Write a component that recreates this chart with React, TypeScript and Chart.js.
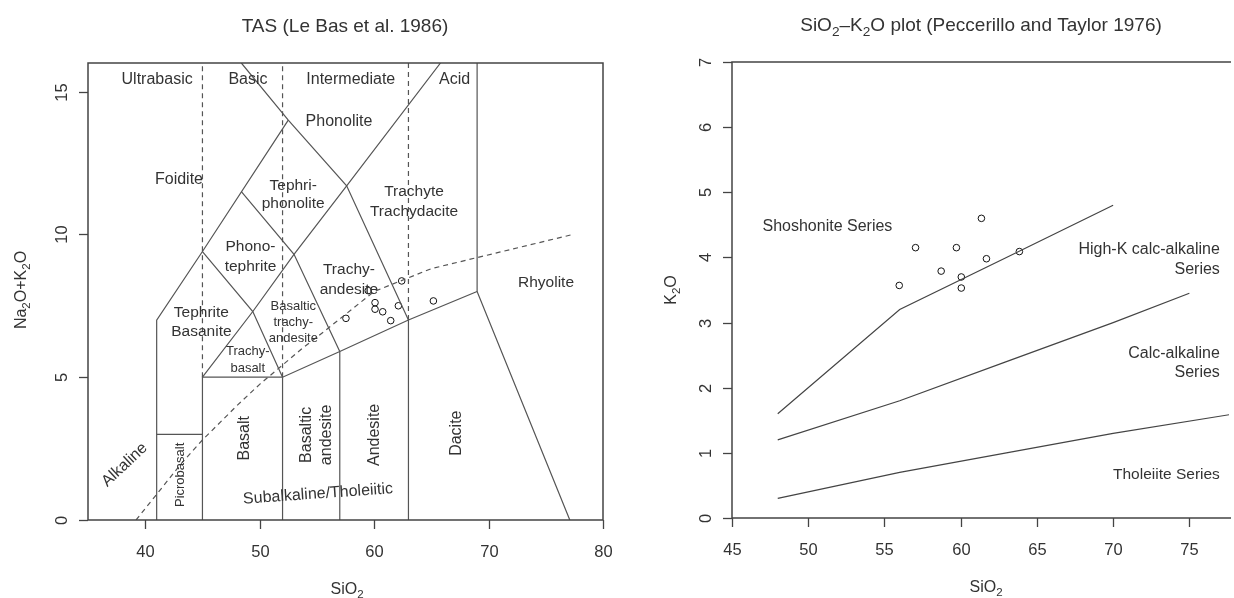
import React, { useEffect, useRef } from 'react';
import { Chart, registerables } from 'chart.js';
Chart.register(...registerables);

// ---------- TAS (Le Bas et al. 1986) ----------
const TAS_SIO2 = [57.54, 59.49, 60.08, 60.08, 60.75, 61.45, 62.12, 62.41, 65.18];
const TAS_ALK = [7.06, 8.03, 7.61, 7.38, 7.29, 6.98, 7.5, 8.37, 7.67];
const TAS_X_TICKS = [40, 50, 60, 70, 80];
const TAS_Y_TICKS = [0, 5, 10, 15];

// field boundaries (SiO2, Na2O+K2O)
const TAS_SOLID: number[][][] = [
  [[41, 0], [41, 7], [45, 9.4], [52.5, 14]],
  [[48.4, 16], [52.5, 14], [57.6, 11.7], [63, 7]],
  [[45, 0], [45, 5], [52, 5], [57, 5.9], [63, 7], [69, 8], [77.1, 0]],
  [[41, 3], [45, 3]],
  [[52, 0], [52, 5]],
  [[57, 0], [57, 5.9]],
  [[63, 0], [63, 7]],
  [[69, 8], [69, 16]],
  [[45, 5], [49.4, 7.3], [53, 9.3], [57.6, 11.7], [65.8, 16]],
  [[45, 9.4], [49.4, 7.3], [52, 5]],
  [[48.4, 11.5], [53, 9.3], [57, 5.9]],
];
const TAS_DASHED: number[][][] = [
  [[45, 5], [45, 16]],
  [[52, 5], [52, 16]],
  [[63, 7], [63, 16]],
];
const ALK_CURVE_X = [39.2, 40, 43.2, 45, 48, 50, 53.7, 55, 60, 65, 77.4];
const ALK_CURVE_Y = [0, 0.4, 2, 2.8, 4, 4.75, 6, 6.4, 8, 8.8, 10];

const TAS_LABELS = [
  { t: 'Ultrabasic', x: 41.04, y: 15.41, s: 16 },
  { t: 'Basic', x: 48.98, y: 15.41, s: 16 },
  { t: 'Intermediate', x: 57.96, y: 15.43, s: 16 },
  { t: 'Acid', x: 67.03, y: 15.43, s: 16 },
  { t: 'Foidite', x: 42.95, y: 11.93, s: 16 },
  { t: 'Phonolite', x: 56.93, y: 13.95, s: 16 },
  { t: 'Tephri-\nphonolite', x: 52.93, y: 11.39, s: 15.5, lh: 18 },
  { t: 'Phono-\ntephrite', x: 49.2, y: 9.22, s: 15.5, lh: 20 },
  { t: 'Trachyte\nTrachydacite', x: 63.49, y: 11.15, s: 15.5, lh: 20 },
  { t: 'Trachy-\nandesite', x: 57.8, y: 8.4, s: 15.5, lh: 20 },
  { t: 'Rhyolite', x: 75.02, y: 8.32, s: 15.5 },
  { t: 'Tephrite\nBasanite', x: 44.91, y: 6.94, s: 15.5, lh: 19 },
  { t: 'Basaltic\ntrachy-\nandesite', x: 52.94, y: 6.93, s: 13, lh: 16 },
  { t: 'Trachy-\nbasalt', x: 48.96, y: 5.6, s: 13, lh: 16.5 },
  { t: 'Alkaline', x: 38.2, y: 1.93, s: 16, r: -43 },
  { t: 'Picrobasalt', x: 43.07, y: 1.58, s: 13, r: -90 },
  { t: 'Basalt', x: 48.7, y: 2.86, s: 16, r: -90 },
  { t: 'Basaltic\nandesite', x: 54.97, y: 2.98, s: 16, r: -90, lh: 20 },
  { t: 'Andesite', x: 60.08, y: 2.98, s: 16, r: -90 },
  { t: 'Dacite', x: 67.23, y: 3.04, s: 16, r: -90 },
  { t: 'Subalkaline/Tholeiitic', x: 55.1, y: 0.91, s: 16, r: -4 },
];

// ---------- SiO2-K2O (Peccerillo and Taylor 1976) ----------
const PT_SIO2 = [55.97, 57.04, 58.72, 59.72, 60.04, 60.04, 61.36, 61.69, 63.85];
const PT_K2O = [3.57, 4.15, 3.79, 4.15, 3.7, 3.53, 4.6, 3.98, 4.09];
const PT_X_TICKS = [45, 50, 55, 60, 65, 70, 75];
const PT_Y_TICKS = [0, 1, 2, 3, 4, 5, 6, 7];
const THOL_X = [48, 56, 63, 70, 78];
const THOL_Y = [0.3, 0.7, 1.0, 1.3, 1.6];
const CALC_X = [48, 56, 63, 70, 75];
const CALC_Y = [1.2, 1.8, 2.4, 3.0, 3.45];
const HIGHK_X = [48, 56, 63, 70];
const HIGHK_Y = [1.6, 3.2, 4.0, 4.8];

const PT_LABELS = [
  { t: 'Shoshonite Series', x: 47.0, y: 4.47, s: 16, a: 'left' },
  { t: 'High-K calc-alkaline\nSeries', x: 77.0, y: 3.97, s: 16, a: 'right', lh: 19.5 },
  { t: 'Calc-alkaline\nSeries', x: 77.0, y: 2.38, s: 16, a: 'right', lh: 19 },
  { t: 'Tholeiite Series', x: 77.0, y: 0.67, s: 15.5, a: 'right' },
];

const FONT = '"Liberation Sans", Arial, Helvetica, sans-serif';
const TEXT = '#333';

function segs(line: string) {
  const out: { t: string; sub: boolean }[] = [];
  for (let i = 0; i < line.length; i++) {
    if (line[i] === '_' && i + 1 < line.length) {
      out.push({ t: line[i + 1], sub: true });
      i++;
    } else {
      const last = out[out.length - 1];
      if (last && !last.sub) last.t += line[i];
      else out.push({ t: line[i], sub: false });
    }
  }
  return out;
}

function drawRich(ctx: CanvasRenderingContext2D, text: string, x: number, y: number, size: number,
  rot = 0, align = 'center', lh = size * 1.2) {
  const lines = text.split('\n');
  ctx.save();
  ctx.translate(x, y);
  if (rot) ctx.rotate((rot * Math.PI) / 180);
  ctx.fillStyle = TEXT;
  ctx.textBaseline = 'middle';
  ctx.textAlign = 'left';
  lines.forEach((line, i) => {
    const ss = segs(line).map((s) => {
      ctx.font = `${s.sub ? size * 0.72 : size}px ${FONT}`;
      return { ...s, w: ctx.measureText(s.t).width };
    });
    const w = ss.reduce((a, s) => a + s.w, 0);
    let cx = align === 'left' ? 0 : align === 'right' ? -w : -w / 2;
    const cy = (i - (lines.length - 1) / 2) * lh;
    ss.forEach((s) => {
      ctx.font = `${s.sub ? size * 0.72 : size}px ${FONT}`;
      ctx.fillText(s.t, cx, cy + (s.sub ? size * 0.32 : 0));
      cx += s.w;
    });
  });
  ctx.restore();
}

type PanelCfg = {
  xTicks: number[]; yTicks: number[]; title: string; titlePos: number[];
  xTitle: string; xTitlePos: number[]; yTitle: string; yTitlePos: number[];
  labels: any[]; rightBorder: boolean;
};

function panelPlugin(cfg: PanelCfg) {
  return {
    id: 'panelDecor',
    afterDatasetsDraw(chart: any) {
      const ctx: CanvasRenderingContext2D = chart.ctx;
      const { left, right, top, bottom } = chart.chartArea;
      const xs = chart.scales.x;
      const ys = chart.scales.y;
      ctx.save();
      // region labels
      cfg.labels.forEach((l) => {
        drawRich(ctx, l.t, xs.getPixelForValue(l.x), ys.getPixelForValue(l.y), l.s, l.r || 0, l.a || 'center', l.lh || l.s * 1.2);
      });
      // box
      ctx.strokeStyle = '#444';
      ctx.lineWidth = 1.5;
      ctx.beginPath();
      ctx.moveTo(left, bottom);
      ctx.lineTo(left, top);
      ctx.lineTo(right + (cfg.rightBorder ? 0 : 2), top);
      if (cfg.rightBorder) ctx.lineTo(right, bottom);
      else ctx.moveTo(right + 2, bottom);
      ctx.lineTo(left, bottom);
      ctx.stroke();
      // ticks
      ctx.lineWidth = 1.3;
      cfg.xTicks.forEach((v) => {
        const px = Math.round(xs.getPixelForValue(v)) + 0.5;
        ctx.beginPath();
        ctx.moveTo(px, bottom);
        ctx.lineTo(px, bottom + 9);
        ctx.stroke();
        drawRich(ctx, String(v), px, bottom + 32, 16.5);
      });
      cfg.yTicks.forEach((v) => {
        const py = Math.round(ys.getPixelForValue(v)) + 0.5;
        ctx.beginPath();
        ctx.moveTo(left - 9, py);
        ctx.lineTo(left, py);
        ctx.stroke();
        drawRich(ctx, String(v), left - 26, py, 16.5, -90);
      });
      drawRich(ctx, cfg.title, cfg.titlePos[0], cfg.titlePos[1], 19);
      drawRich(ctx, cfg.xTitle, cfg.xTitlePos[0], cfg.xTitlePos[1], 16);
      drawRich(ctx, cfg.yTitle, cfg.yTitlePos[0], cfg.yTitlePos[1], 16, -90);
      ctx.restore();
    },
  };
}

const toPts = (xs: number[], ys: number[]) => xs.map((x, i) => ({ x, y: ys[i] }));
const pairPts = (p: number[][]) => p.map(([x, y]) => ({ x, y }));

function lineDs(data: any[], dashed = false, color = '#555') {
  return {
    data,
    showLine: true,
    borderColor: color,
    borderWidth: 1.2,
    borderDash: dashed ? [5, 4] : [],
    pointRadius: 0,
    fill: false,
    tension: 0,
    clip: 0,
  };
}

function pointsDs(data: any[]) {
  return {
    data,
    showLine: false,
    pointRadius: 3.3,
    pointBorderWidth: 1,
    borderColor: '#111',
    pointBorderColor: '#111',
    pointBackgroundColor: 'rgba(0,0,0,0)',
    backgroundColor: 'rgba(0,0,0,0)',
    clip: false,
  };
}

function baseOptions(xmin: number, xmax: number, ymin: number, ymax: number, padding: any) {
  return {
    responsive: false,
    animation: false as const,
    events: [] as any[],
    layout: { padding },
    plugins: { legend: { display: false }, tooltip: { enabled: false }, title: { display: false } },
    scales: {
      x: { type: 'linear' as const, min: xmin, max: xmax, display: false },
      y: { type: 'linear' as const, min: ymin, max: ymax, display: false },
    },
  };
}

export default function App() {
  const leftRef = useRef<HTMLCanvasElement>(null);
  const rightRef = useRef<HTMLCanvasElement>(null);

  useEffect(() => {
    const tas = new Chart(leftRef.current as HTMLCanvasElement, {
      type: 'scatter',
      data: {
        datasets: [
          ...TAS_SOLID.map((l) => lineDs(pairPts(l))),
          ...TAS_DASHED.map((l) => lineDs(pairPts(l), true)),
          lineDs(toPts(ALK_CURVE_X, ALK_CURVE_Y), true),
          pointsDs(toPts(TAS_SIO2, TAS_ALK)),
        ] as any,
      },
      options: baseOptions(35, 80, 0, 16, { left: 88, right: 17, top: 63, bottom: 78 }) as any,
      plugins: [
        panelPlugin({
          xTicks: TAS_X_TICKS, yTicks: TAS_Y_TICKS,
          title: 'TAS (Le Bas et al. 1986)', titlePos: [345, 27],
          xTitle: 'SiO_2', xTitlePos: [347, 590],
          yTitle: 'Na_2O+K_2O', yTitlePos: [22, 290],
          labels: TAS_LABELS, rightBorder: true,
        }),
      ],
    });

    const pt = new Chart(rightRef.current as HTMLCanvasElement, {
      type: 'scatter',
      data: {
        datasets: [
          lineDs(toPts(THOL_X, THOL_Y), false, '#444'),
          lineDs(toPts(CALC_X, CALC_Y), false, '#444'),
          lineDs(toPts(HIGHK_X, HIGHK_Y), false, '#444'),
          pointsDs(toPts(PT_SIO2, PT_K2O)),
        ] as any,
      },
      options: baseOptions(45, 77.6, 0, 7, { left: 112, right: 0, top: 62, bottom: 80 }) as any,
      plugins: [
        panelPlugin({
          xTicks: PT_X_TICKS, yTicks: PT_Y_TICKS,
          title: 'SiO_2–K_2O plot (Peccerillo and Taylor 1976)', titlePos: [361, 26],
          xTitle: 'SiO_2', xTitlePos: [366, 588],
          yTitle: 'K_2O', yTitlePos: [52, 290],
          labels: PT_LABELS, rightBorder: false,
        }),
      ],
    });

    return () => {
      tas.destroy();
      pt.destroy();
    };
  }, []);

  return (
    <div style={{ position: 'absolute', left: 0, top: 0, width: 1234, height: 598, background: '#fff', overflow: 'hidden' }}>
      <canvas ref={leftRef} width={620} height={598} style={{ position: 'absolute', left: 0, top: 0 }} />
      <canvas ref={rightRef} width={614} height={598} style={{ position: 'absolute', left: 620, top: 0 }} />
    </div>
  );
}
